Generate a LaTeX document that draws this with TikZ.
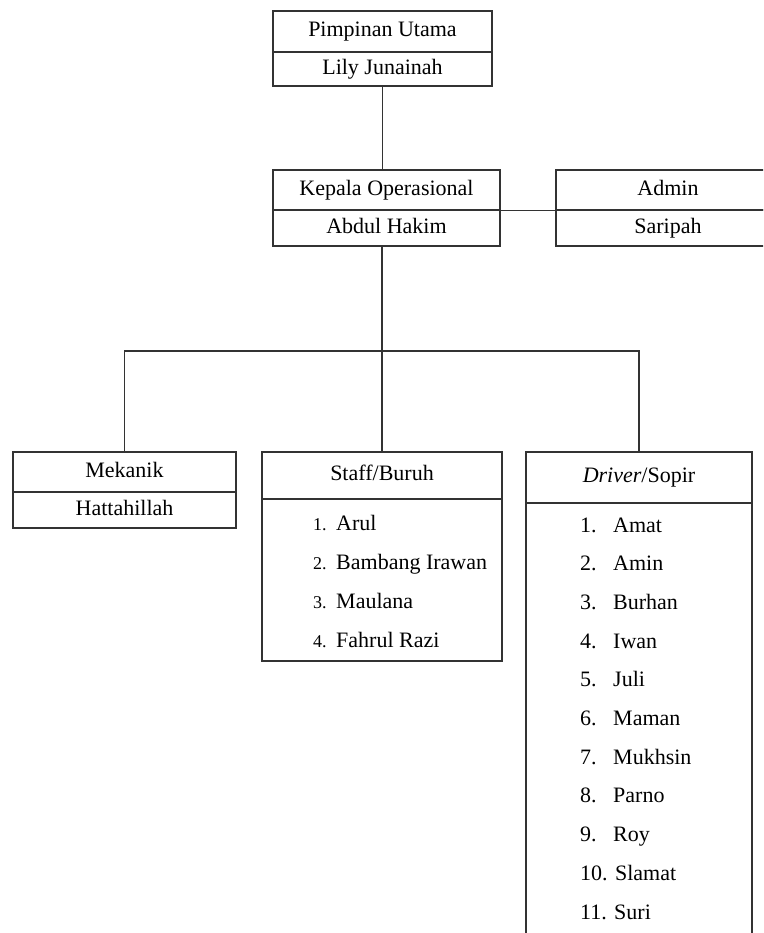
\documentclass[tikz,border=0pt]{standalone}
\usepackage{fontspec}
\setmainfont{Liberation Serif}
\begin{document}
\begin{tikzpicture}[x=1pt,y=-1pt,
  box/.style={draw=black!80, line width=1.3pt, inner sep=0pt, text height=15pt, text depth=4.5pt,
    font=\fontsize{22}{26}\selectfont, fill=white},
  itemtext/.style={inner sep=0pt, anchor=base west, font=\fontsize{22}{26}\selectfont},
  smallnum/.style={inner sep=0pt, anchor=base west, font=\fontsize{18}{22}\selectfont},
  conn/.style={draw=black!80, line width=1.3pt}]
\useasboundingbox (0,0) rectangle (763,933);
\clip (0,0) rectangle (763,933);
\fill[white] (0,0) rectangle (763,933);

% Pimpinan Utama
\node[box, minimum width=219pt, minimum height=41pt] (pu) at (382.5,31.5) {Pimpinan Utama};
\node[box, minimum width=219pt, minimum height=34pt] (pun) at (382.5,69) {Lily Junainah};

% Kepala Operasional
\node[box, minimum width=227pt, minimum height=40pt] (ko) at (386.5,190) {Kepala Operasional};
\node[box, minimum width=227pt, minimum height=36pt] (kh) at (386.5,228) {Abdul Hakim};

% Admin
\node[box, minimum width=224pt, minimum height=40pt] (ad) at (668,190) {Admin};
\node[box, minimum width=224pt, minimum height=36pt] (adn) at (668,228) {Saripah};

% Mekanik
\node[box, minimum width=223pt, minimum height=40pt] (mk) at (124.5,472) {Mekanik};
\node[box, minimum width=223pt, minimum height=36pt] (mkn) at (124.5,510) {Hattahillah};

% Staff/Buruh
\node[box, minimum width=240pt, minimum height=47pt] (sh) at (382,475.5) {Staff/Buruh};
\node[box, minimum width=240pt, minimum height=162pt] (sb) at (382,580) {};

% Driver/Sopir
\node[box, minimum width=226pt, minimum height=51pt] (dr) at (639,477.5) {\textit{Driver}/Sopir};
\node[box, minimum width=226pt, minimum height=460pt] (db) at (639,733) {};

% connectors
\coordinate (bus) at (383,351);
\draw[conn] (pun.south) -- (pun.south |- ko.north);
\draw[conn] (ko.south east) -- (ad.south west);
\draw[conn] (sh.north) -- (sh.north |- kh.south);
\draw[conn] (mk.north) -- (mk.north |- bus) -- (dr.north |- bus) -- (dr.north);

% Staff list
\node[smallnum] (sn1) at (313,530) {1.};
\node[itemtext] (s1) at (336,530) {Arul};
\node[smallnum] (sn2) at (313,569) {2.};
\node[itemtext] (s2) at (336,569) {Bambang Irawan};
\node[smallnum] (sn3) at (313,608) {3.};
\node[itemtext] (s3) at (336,608) {Maulana};
\node[smallnum] (sn4) at (313,647) {4.};
\node[itemtext] (s4) at (336,647) {Fahrul Razi};

% Driver list
\foreach \n/\name [count=\i from 0] in {1/Amat,2/Amin,3/Burhan,4/Iwan,5/Juli,6/Maman,7/Mukhsin,8/Parno,9/Roy} {
  \node[itemtext] (dn\n) at (580,{532+38.7*\i}) {\n.};
  \node[itemtext] (d\n) at (613,{532+38.7*\i}) {\name};
}
\node[itemtext] (d10) at (580,880.3) {10. Slamat};
\node[itemtext] (d11) at (580,919) {11. Suri};
\end{tikzpicture}
\end{document}
